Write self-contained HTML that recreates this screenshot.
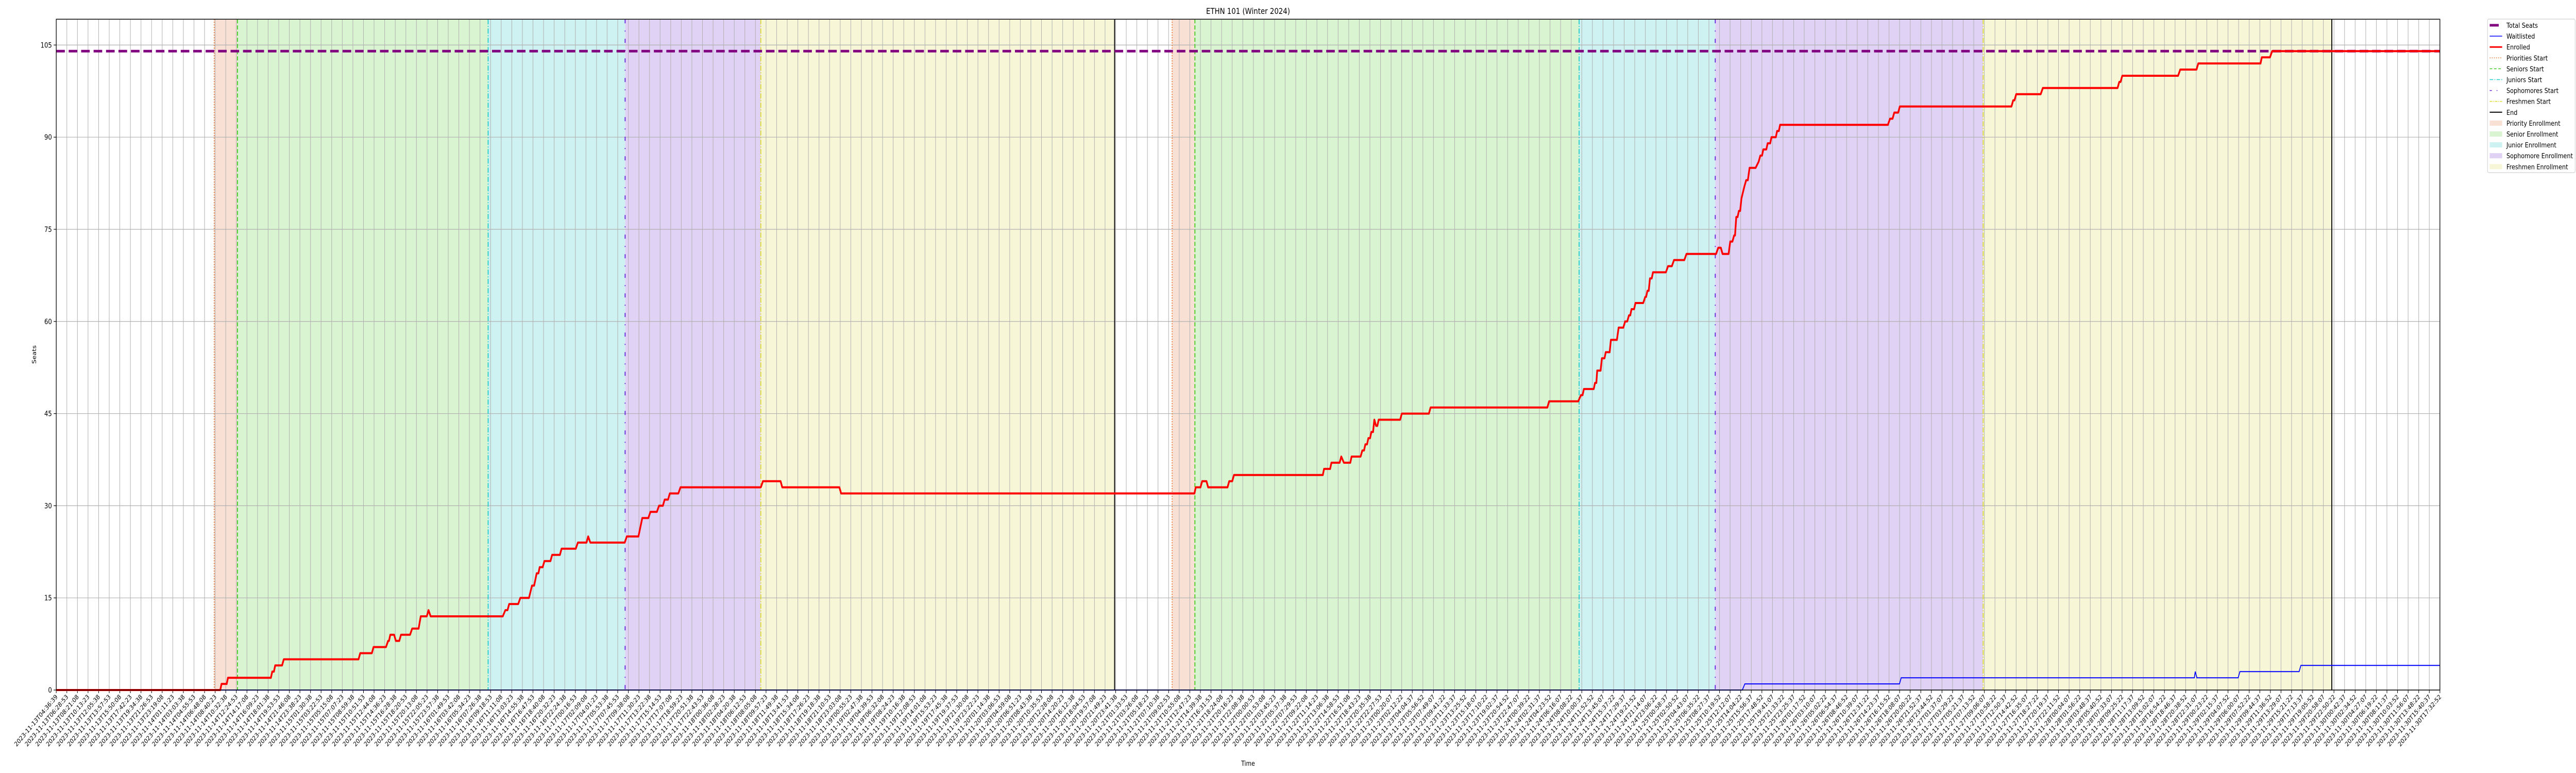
<!DOCTYPE html>
<html><head><meta charset="utf-8">
<style>
html,body{margin:0;padding:0;background:#fff;width:100%;height:100%;overflow:hidden;}
svg{display:block;width:100vw;height:100vh;font-family:"DejaVu Sans","Liberation Sans",sans-serif;}
</style></head><body>
<svg id="chart" viewBox="0 0 6000 1500" preserveAspectRatio="none" xmlns="http://www.w3.org/2000/svg">
<text x="2907" y="27" font-size="16" text-anchor="middle">ETHN 101 (Winter 2024)</text>
<text x="2907" y="1486" font-size="13" text-anchor="middle">Time</text>
<text x="0" y="0" font-size="13" text-anchor="middle" transform="translate(84,688) rotate(-90)">Seats</text>
<g id="plot"></g>
<g id="legend"></g>
</svg>
<script>
// ---- data ----
const startTime = "2023-11-13T04:36:39";
const spanHours = 420.937;
const tickCount = 226;
const yTicks = [0, 15, 30, 45, 60, 75, 90, 105];
const totalSeats = 104;
const enrolledHours = [0,28.96,29.19,30.10,30.33,37.91,38.14,38.44,38.67,39.88,40.18,53.38,53.68,55.73,56.03,58.23,58.61,58.76,58.99,59.67,59.97,60.58,60.88,62.48,62.85,63.99,64.37,65.43,65.74,66.11,78.85,79.31,79.69,79.99,81.58,81.96,83.48,84.01,84.39,84.84,85.15,85.37,85.90,86.21,87.27,87.57,88.94,89.24,91.74,92.12,93.64,93.94,94.32,100.39,100.76,102.81,103.49,104.56,104.93,106.07,106.45,107.13,107.44,108.04,108.35,109.86,110.24,124.42,124.80,127.91,128.21,138.30,138.60,201.00,201.23,202.06,202.36,203.12,203.42,206.84,207.14,207.67,207.98,223.67,223.89,224.96,225.19,226.63,226.93,227.39,228.52,228.75,230.34,230.64,230.95,231.18,231.48,231.71,232.01,232.24,232.54,232.77,233.07,233.30,233.53,237.32,237.62,242.40,242.70,263.32,263.63,268.78,269.24,269.54,269.77,271.51,271.74,271.97,272.12,272.72,272.95,273.41,273.63,274.32,274.54,275.60,275.91,276.74,277.05,277.42,277.73,277.96,278.18,278.64,278.87,280.24,280.61,280.76,280.99,281.22,281.44,281.75,281.97,284.25,284.63,285.31,285.69,287.51,287.89,293.12,293.50,293.95,294.26,295.32,295.62,296.00,296.30,296.46,296.68,296.91,297.14,297.37,297.59,298.12,298.43,298.73,299.03,300.09,300.63,300.93,301.23,301.46,301.99,302.22,302.67,302.90,303.66,303.89,304.19,304.42,323.45,323.83,324.28,324.58,325.27,325.57,345.28,345.58,345.81,346.12,350.44,350.82,364.01,364.32,364.55,364.85,374.70,375.08,377.96,378.27,389.26,389.49,390.93,391.31,420.94];
const enrolledValues = [0,0,1,1,2,2,3,3,4,4,5,5,6,6,7,7,8,8,9,9,8,8,9,9,10,10,12,12,13,12,12,13,13,14,14,15,15,17,17,19,19,20,20,21,21,22,22,23,23,24,24,25,24,24,25,25,28,28,29,29,30,30,31,31,32,32,33,33,34,34,33,33,32,32,33,33,34,34,33,33,34,34,35,35,36,36,37,37,38,37,37,38,38,39,39,40,40,41,41,42,42,44,43,43,44,44,45,45,46,46,47,47,48,48,49,49,50,50,52,52,54,54,55,55,57,57,59,59,60,60,61,61,62,62,63,63,64,64,65,65,67,67,68,68,69,69,70,70,71,71,72,72,71,71,73,73,74,74,77,77,78,78,80,82,83,83,85,85,86,87,87,88,88,89,89,90,90,91,91,92,92,93,93,94,94,95,95,96,96,97,97,98,98,99,99,100,100,101,101,102,102,103,103,104,104];
const waitHours = [0,297.75,298.20,325.50,325.80,377.58,377.73,378.03,385.31,385.62,396.08,396.39,420.94];
const waitValues = [0,0,1,1,2,2,3,2,2,3,3,4,4];
const prioStarts = [27.90, 197.06];
const seniorStarts = [32.00, 201.08];
const juniorStarts = [76.27, 268.93];
const sophStarts = [100.46, 292.97];
const freshStarts = [124.42, 340.28];
const endTimes = [186.90, 401.85];

// ---- layout ----
const L=131, R=5683, T=37.3, B=1339, YMAX=109.2;
const xS = h => L + (h/spanHours)*(R-L);
const yS = v => B - (v/YMAX)*(B-T);
const NS="http://www.w3.org/2000/svg";
const plot=document.getElementById('plot');
function mk(tag, attrs, parent){const e=document.createElementNS(NS,tag);for(const k in attrs)e.setAttribute(k,attrs[k]);(parent||plot).appendChild(e);return e;}

const phases=[[prioStarts,seniorStarts,'#f8e0d5','priority-enrollment-region'],[seniorStarts,juniorStarts,'#d9f4d0','senior-enrollment-region'],[juniorStarts,sophStarts,'#cef1f2','junior-enrollment-region'],[sophStarts,freshStarts,'#e0d2f4','sophomore-enrollment-region'],[freshStarts,endTimes,'#f7f7d8','freshmen-enrollment-region']];
phases.forEach(p=>{for(let i=0;i<p[0].length;i++){
  const r=mk('rect',{x:xS(p[0][i]),y:T,width:xS(p[1][i])-xS(p[0][i]),height:B-T,fill:p[2]});
  
  
}});

const t0=Date.parse(startTime+"Z");
function fmt(ms){const d=new Date(ms);const p=n=>String(n).padStart(2,'0');return d.getUTCFullYear()+'-'+p(d.getUTCMonth()+1)+'-'+p(d.getUTCDate())+'T'+p(d.getUTCHours())+':'+p(d.getUTCMinutes())+':'+p(d.getUTCSeconds());}
for(let i=0;i<tickCount;i++){
  const h=i*spanHours/(tickCount-1), x=xS(h);
  const g=mk('line',{x1:x,x2:x,y1:T,y2:B,stroke:'#b0b0b0','stroke-width':1.2});
  
  
  const tk=mk('line',{x1:x,x2:x,y1:B,y2:B+6,stroke:'#000','stroke-width':1.2});
  
  
  const tx=mk('text',{x:0,y:0,'font-size':12.5,'text-anchor':'end',transform:`translate(${x+4},${B+14}) rotate(-45)`});
  tx.textContent=fmt(t0+h*3600000);
  
  
}
yTicks.forEach(v=>{
  const y=yS(v);
  const g=mk('line',{x1:L,x2:R,y1:y,y2:y,stroke:'#b0b0b0','stroke-width':1.2});
  
  
  const tk=mk('line',{x1:L-6,x2:L,y1:y,y2:y,stroke:'#000','stroke-width':1.2});
  
  
  const tx=mk('text',{x:L-10,y:y+5,'font-size':14,'text-anchor':'end'});
  tx.textContent=String(v);
  
  
});

const evs=[[prioStarts,'#ee7733','2 3','priorities-start-line'],[seniorStarts,'#44cc22','8 4','seniors-start-line'],[juniorStarts,'#22cccc','10 3 2 3','juniors-start-line'],[sophStarts,'#6622dd','8 14 2 14','sophomores-start-line'],[freshStarts,'#dddd33','10 3 2 3','freshmen-start-line'],[endTimes,'#000','','end-line']];
evs.forEach(e=>e[0].forEach(h=>{
  const a={x1:xS(h),x2:xS(h),y1:T,y2:B,stroke:e[1],'stroke-width':2.2};
  if(e[2])a['stroke-dasharray']=e[2];
  const l=mk('line',a);
  
  
}));

const ts=mk('line',{x1:L,x2:R,y1:yS(totalSeats),y2:yS(totalSeats),stroke:'#800080','stroke-width':5,'stroke-dasharray':'20 9'});



function pts(hs,vs){return hs.map((h,i)=>xS(h).toFixed(1)+','+yS(vs[i]).toFixed(1)).join(' ');}
const wl=mk('polyline',{points:pts(waitHours,waitValues),fill:'none',stroke:'#0000ff','stroke-width':2});


const en=mk('polyline',{points:pts(enrolledHours,enrolledValues),fill:'none',stroke:'#ff0000','stroke-width':4,'stroke-linejoin':'round'});



const fr=mk('rect',{x:L,y:T,width:R-L,height:B-T,fill:'none',stroke:'#000','stroke-width':1.5});



const lg=document.getElementById('legend');
const lb=mk('rect',{x:5794,y:37,width:204,height:298,fill:'#fff',stroke:'#d0d0d0','stroke-width':1.2,rx:3},lg);


const items=[
 ['Total Seats','line','#800080',5,'',],['Waitlisted','line','#0000ff',1.5,''],['Enrolled','line','#ff0000',3,''],
 ['Priorities Start','line','#ee7733',1.5,'2 3'],['Seniors Start','line','#44cc22',1.5,'6 4'],['Juniors Start','line','#22cccc',1.5,'8 3 2 3'],
 ['Sophomores Start','line','#6622dd',1.5,'5 11 2 11'],['Freshmen Start','line','#dddd33',1.5,'6 2 2 2'],['End','line','#000',2,''],
 ['Priority Enrollment','patch','#f8e0d5'],['Senior Enrollment','patch','#d9f4d0'],['Junior Enrollment','patch','#cef1f2'],
 ['Sophomore Enrollment','patch','#e0d2f4'],['Freshmen Enrollment','patch','#f7f7d8']];
items.forEach((it,i)=>{
  const y=49+i*21.1;
  if(it[1]==='line'){
    const a={x1:5799,x2:5828,y1:y,y2:y,stroke:it[2],'stroke-width':it[3]};
    if(it[4])a['stroke-dasharray']=it[4];
    if(i===0){a.x2=5820;}
    const l=mk('line',a,lg);
    
    
  } else {
    const r=mk('rect',{x:5799,y:y-5,width:29,height:10,fill:it[2]},lg);
    
    
  }
  const t=mk('text',{x:5838,y:y+5,'font-size':13.5},lg);
  t.textContent=it[0];
  
  
});
</script>
</body></html>
